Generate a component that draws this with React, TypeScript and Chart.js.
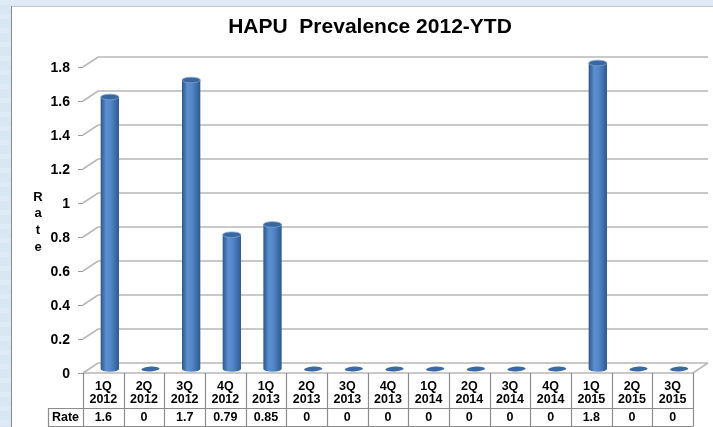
import { useEffect, useRef } from "react";
import { Chart, registerables } from "chart.js";

Chart.register(...registerables);

const chartTitle = "HAPU  Prevalence 2012-YTD";
const seriesName = "Rate";
const quarters = ["1Q", "2Q", "3Q", "4Q", "1Q", "2Q", "3Q", "4Q", "1Q", "2Q", "3Q", "4Q", "1Q", "2Q", "3Q"];
const years = ["2012", "2012", "2012", "2012", "2013", "2013", "2013", "2013", "2014", "2014", "2014", "2014", "2015", "2015", "2015"];
const rateValues = [1.6, 0, 1.7, 0.79, 0.85, 0, 0, 0, 0, 0, 0, 0, 1.8, 0, 0];
const rateLabels = ["1.6", "0", "1.7", "0.79", "0.85", "0", "0", "0", "0", "0", "0", "0", "1.8", "0", "0"];
const yTickValues = [0, 0.2, 0.4, 0.6, 0.8, 1, 1.2, 1.4, 1.6, 1.8];
const yTickLabels = ["0", "0.2", "0.4", "0.6", "0.8", "1", "1.2", "1.4", "1.6", "1.8"];

const FONT = "'Liberation Sans', Arial, sans-serif";
const DEPTH_X = 15;
const DEPTH_Y = 10;
const BAR_DX = 6.5;
const BAR_DY = 4;

const decorPlugin = {
  id: "decor",
  beforeDraw(chart: any) {
    const ctx = chart.ctx;
    const W = chart.width;
    const H = chart.height;
    ctx.save();
    ctx.fillStyle = "#d9e7f5";
    ctx.fillRect(0, 0, W, H);
    ctx.fillStyle = "rgba(255,255,255,0.15)";
    for (let y = 0; y < H; y += 14) ctx.fillRect(0, y, W, 5);
    // panel
    ctx.fillStyle = "#ffffff";
    ctx.fillRect(11, 6, W - 11, H - 6);
    ctx.strokeStyle = "#c8c8c8";
    ctx.lineWidth = 1;
    ctx.beginPath();
    ctx.moveTo(11, 6.5);
    ctx.lineTo(W, 6.5);
    ctx.stroke();
    ctx.strokeStyle = "#8a8a8a";
    ctx.beginPath();
    ctx.moveTo(11.5, 6);
    ctx.lineTo(11.5, H);
    ctx.stroke();
    ctx.restore();
  },
  beforeDatasetsDraw(chart: any) {
    const ctx = chart.ctx;
    const ys = chart.scales.y;
    const area = chart.chartArea;
    const left = area.left;
    const right = area.right;
    ctx.save();
    ctx.strokeStyle = "#b8b8b8";
    ctx.lineWidth = 1.6;
    yTickValues.forEach((v) => {
      const py = ys.getPixelForValue(v);
      ctx.beginPath();
      ctx.moveTo(left, py);
      ctx.lineTo(left + DEPTH_X, py - DEPTH_Y);
      ctx.lineTo(right + DEPTH_X, py - DEPTH_Y);
      ctx.stroke();
    });
    const p0 = ys.getPixelForValue(0);
    ctx.beginPath();
    ctx.moveTo(left, p0);
    ctx.lineTo(right, p0);
    ctx.lineTo(right + DEPTH_X, p0 - DEPTH_Y);
    ctx.stroke();
    ctx.strokeStyle = "#9a9a9a";
    ctx.lineWidth = 1;
    yTickValues.forEach((v) => {
      const py = Math.round(ys.getPixelForValue(v)) + 0.5;
      ctx.beginPath();
      ctx.moveTo(left - 5, py);
      ctx.lineTo(left, py);
      ctx.stroke();
    });
    ctx.restore();
  },
  afterDatasetsDraw(chart: any) {
    const ctx = chart.ctx;
    const meta = chart.getDatasetMeta(0);
    ctx.save();
    meta.data.forEach((el: any) => {
      const p = el.getProps(["x", "y", "base", "width"], true);
      const cx = p.x + BAR_DX;
      const top = p.y - BAR_DY;
      const bot = p.base - BAR_DY;
      const w = p.width;
      const l = cx - w / 2;
      const r = cx + w / 2;
      const ry = 2.8;
      if (bot - top > 1) {
        const g = ctx.createLinearGradient(l, 0, r, 0);
        g.addColorStop(0, "#2b5689");
        g.addColorStop(0.3, "#5c8fd0");
        g.addColorStop(0.55, "#5487c8");
        g.addColorStop(1, "#2c5990");
        ctx.fillStyle = g;
        ctx.beginPath();
        ctx.moveTo(l, top);
        ctx.lineTo(l, bot);
        ctx.ellipse(cx, bot, w / 2, ry, 0, Math.PI, 0, true);
        ctx.lineTo(r, top);
        ctx.closePath();
        ctx.fill();
        ctx.beginPath();
        ctx.ellipse(cx, top, w / 2, ry, 0, 0, Math.PI * 2);
        ctx.fillStyle = "#39679f";
        ctx.fill();
        ctx.strokeStyle = "rgba(130,165,215,0.9)";
        ctx.lineWidth = 0.8;
        ctx.stroke();
      } else {
        ctx.beginPath();
        ctx.ellipse(cx, bot, w / 2, 2.4, -0.06, 0, Math.PI * 2);
        ctx.fillStyle = "#3a69a5";
        ctx.fill();
      }
    });
    ctx.restore();
  },
  afterDraw(chart: any) {
    const ctx = chart.ctx;
    const xs = chart.scales.x;
    const ys = chart.scales.y;
    const area = chart.chartArea;
    ctx.save();
    ctx.fillStyle = "#000";
    ctx.font = `bold 21px ${FONT}`;
    ctx.textAlign = "center";
    ctx.textBaseline = "middle";
    ctx.fillText(chartTitle, 370, 27);
    ctx.font = `bold 14px ${FONT}`;
    ctx.textAlign = "right";
    yTickValues.forEach((v, i) => {
      ctx.fillText(yTickLabels[i], 70, ys.getPixelForValue(v) + 1);
    });
    ctx.font = `bold 13px ${FONT}`;
    ctx.textAlign = "center";
    seriesName.split("").forEach((ch, i) => {
      ctx.fillText(ch, 38, 197 + i * 16.7);
    });
    const floorY = ys.getPixelForValue(0);
    const c0 = xs.getPixelForValue(0);
    const colW = xs.getPixelForValue(1) - c0;
    const rowTop = 408;
    const rowBot = 426;
    ctx.strokeStyle = "#8c8c8c";
    ctx.lineWidth = 1.2;
    for (let i = 0; i <= quarters.length; i++) {
      const bx = Math.round(c0 - colW / 2 + i * colW) + 0.5;
      ctx.beginPath();
      ctx.moveTo(bx, floorY);
      ctx.lineTo(bx, rowBot);
      ctx.stroke();
    }
    const tableLeft = 48;
    const tableRight = Math.round(c0 - colW / 2 + quarters.length * colW) + 0.5;
    ctx.beginPath();
    ctx.moveTo(tableLeft, rowTop + 0.5);
    ctx.lineTo(tableRight, rowTop + 0.5);
    ctx.moveTo(tableLeft, rowBot + 0.5);
    ctx.lineTo(tableRight, rowBot + 0.5);
    ctx.moveTo(tableLeft + 0.5, rowTop);
    ctx.lineTo(tableLeft + 0.5, rowBot);
    ctx.stroke();
    ctx.fillStyle = "#000";
    ctx.font = `bold 12.5px ${FONT}`;
    ctx.textAlign = "center";
    ctx.textBaseline = "middle";
    quarters.forEach((q, i) => {
      const cx = xs.getPixelForValue(i);
      ctx.fillText(q, cx, 387);
      ctx.fillText(years[i], cx, 400);
      ctx.fillText(rateLabels[i], cx, 417.5);
    });
    ctx.fillText(seriesName, (tableLeft + area.left) / 2, 417.5);
    ctx.restore();
  },
};

export default function App() {
  const ref = useRef<HTMLCanvasElement | null>(null);
  useEffect(() => {
    if (!ref.current) return;
    const labels = quarters.map((q, i) => `${q} ${years[i]}`);
    const chart = new Chart(ref.current, {
      type: "bar",
      data: {
        labels,
        datasets: [
          {
            label: seriesName,
            data: rateValues,
            backgroundColor: "rgba(0,0,0,0)",
            borderWidth: 0,
            barPercentage: 0.45,
            categoryPercentage: 1,
          },
        ],
      },
      options: {
        animation: false,
        responsive: false,
        devicePixelRatio: 1,
        layout: { padding: { left: 83, top: 67, right: 20, bottom: 54 } },
        plugins: {
          legend: { display: false },
          title: { display: false },
          tooltip: { enabled: false },
        },
        scales: {
          x: { display: false, offset: true },
          y: { display: false, min: 0, max: 1.8 },
        },
      },
      plugins: [decorPlugin],
    });
    return () => chart.destroy();
  }, []);
  return (
    <div style={{ position: "fixed", left: 0, top: 0, width: 713, height: 427 }}>
      <canvas ref={ref} width={713} height={427} style={{ display: "block" }} />
    </div>
  );
}
